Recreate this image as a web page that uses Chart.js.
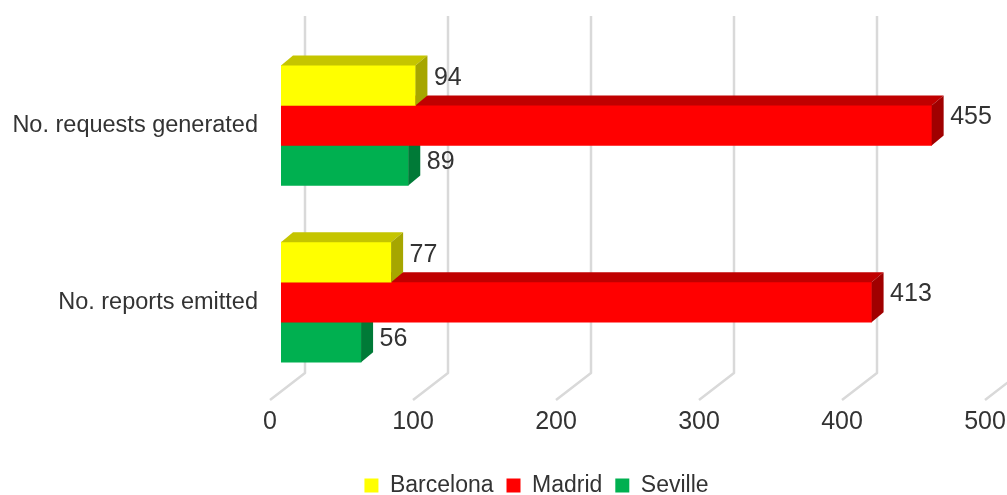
<!DOCTYPE html>
<html>
<head>
<meta charset="utf-8">
<script src="https://cdn.jsdelivr.net/npm/chart.js@4.4.1/dist/chart.umd.min.js"></script>
<style>
  html, body { margin: 0; padding: 0; background: #fff; }
  #wrap { width: 1007px; height: 495px; }
</style>
</head>
<body>
<div id="wrap"><canvas id="chartCitta"></canvas></div>
<script>
// ================================
//   DATA
// ================================
const categorie = ["No. requests generated", "No. reports emitted"];
const barcelona = [94, 77];
const madrid = [455, 413];
const seville = [89, 56];
const tickValori = [0, 100, 200, 300, 400, 500];

const FONT = "'Liberation Sans', Arial, sans-serif";
const TESTO = "#333333";

// 3D offsets (bar depth, wall/floor)
const PROF_X = 12, PROF_Y = 10;
// legend is centred a bit to the right, like the original
const LEGENDA_SX = 77;

// ================================
//   PLUGIN: 3D gridlines + faces + labels
// ================================
const pluginGriglia3D = {
  id: "griglia3D",
  beforeDraw(chart) {
    if (chart.legend) chart.legend.left = LEGENDA_SX;
  },
  beforeDatasetsDraw(chart) {
    const { ctx, chartArea } = chart;
    const sx = chart.scales.x;
    ctx.save();
    ctx.strokeStyle = "#d9d9d9";
    ctx.lineWidth = 2.5;
    ctx.lineJoin = "round";
    tickValori.forEach(v => {
      const px = sx.getPixelForValue(v);
      ctx.beginPath();
      ctx.moveTo(px + 24, chartArea.top - 21);
      ctx.lineTo(px + 24, chartArea.bottom - 17.5);
      ctx.lineTo(px - 11, chartArea.bottom + 9.5);
      ctx.stroke();
    });
    ctx.restore();
  }
};

const pluginFacce = {
  id: "facce3D",
  afterDatasetDraw(chart, args) {
    const ctx = chart.ctx;
    const ds = chart.data.datasets[args.index];
    ctx.save();
    args.meta.data.forEach(bar => {
      const { x, y, base, height } = bar.getProps(["x", "y", "base", "height"], true);
      const top = y - height / 2;
      const bottom = y + height / 2;

      // top face
      ctx.fillStyle = ds.coloreSopra;
      ctx.beginPath();
      ctx.moveTo(base, top);
      ctx.lineTo(base + PROF_X, top - PROF_Y);
      ctx.lineTo(x + PROF_X, top - PROF_Y);
      ctx.lineTo(x, top);
      ctx.closePath();
      ctx.fill();

      // side face
      ctx.fillStyle = ds.coloreLato;
      ctx.beginPath();
      ctx.moveTo(x, top);
      ctx.lineTo(x + PROF_X, top - PROF_Y);
      ctx.lineTo(x + PROF_X, bottom - PROF_Y);
      ctx.lineTo(x, bottom);
      ctx.closePath();
      ctx.fill();
    });
    ctx.restore();
  },
  afterDatasetsDraw(chart) {
    const ctx = chart.ctx;
    ctx.save();
    ctx.font = "25px " + FONT;
    ctx.fillStyle = TESTO;
    ctx.textAlign = "left";
    ctx.textBaseline = "middle";
    chart.data.datasets.forEach((ds, i) => {
      const meta = chart.getDatasetMeta(i);
      meta.data.forEach((bar, j) => {
        const { x, y } = bar.getProps(["x", "y"], true);
        ctx.fillText(String(ds.data[j]), x + PROF_X + 6.5, y + ds.spostaEtichetta);
      });
    });
    ctx.restore();
  }
};

// ================================
//   CHART
// ================================
function createChart() {
  const ctx = document.getElementById("chartCitta");

  new Chart(ctx, {
    type: "bar",
    data: {
      labels: categorie,
      datasets: [
        { label: "Barcelona", data: barcelona, backgroundColor: "#FFFF00", coloreSopra: "#C5C500", coloreLato: "#A6A600", spostaEtichetta: -7.5 },
        { label: "Madrid", data: madrid, backgroundColor: "#FF0000", coloreSopra: "#C00000", coloreLato: "#A00000", spostaEtichetta: -8.5 },
        { label: "Seville", data: seville, backgroundColor: "#00B050", coloreSopra: "#009443", coloreLato: "#007A37", spostaEtichetta: -3 }
      ]
    },
    options: {
      indexAxis: "y",
      responsive: true,
      maintainAspectRatio: false,
      animation: false,
      devicePixelRatio: 1,
      datasets: { bar: { barThickness: 40, borderWidth: 0 } },
      layout: { padding: { top: 34.5, right: 11, bottom: 0, left: 0 } },
      plugins: {
        tooltip: { enabled: false },
        legend: {
          position: "bottom",
          maxHeight: 34,
          labels: {
            font: { family: FONT, size: 23 },
            color: TESTO,
            boxWidth: 14,
            boxHeight: 14,
            padding: 13
          }
        }
      },
      scales: {
        x: {
          min: 0,
          max: 500,
          grid: { display: false, drawTicks: false },
          border: { display: false },
          ticks: {
            stepSize: 100,
            maxRotation: 0,
            font: { family: FONT, size: 25 },
            color: TESTO,
            padding: 17,
            labelOffset: -11
          },
          afterFit(s) {
            s.height = 70.5;
            s.paddingLeft = 0;
            s.paddingRight = 0;
          }
        },
        y: {
          grid: { display: false, drawTicks: false },
          border: { display: false },
          ticks: {
            font: { family: FONT, size: 23.5 },
            color: TESTO,
            padding: 23
          },
          afterFit(s) {
            s.width = 281;
          }
        }
      }
    },
    plugins: [pluginGriglia3D, pluginFacce]
  });
}

createChart();
</script>
</body>
</html>
